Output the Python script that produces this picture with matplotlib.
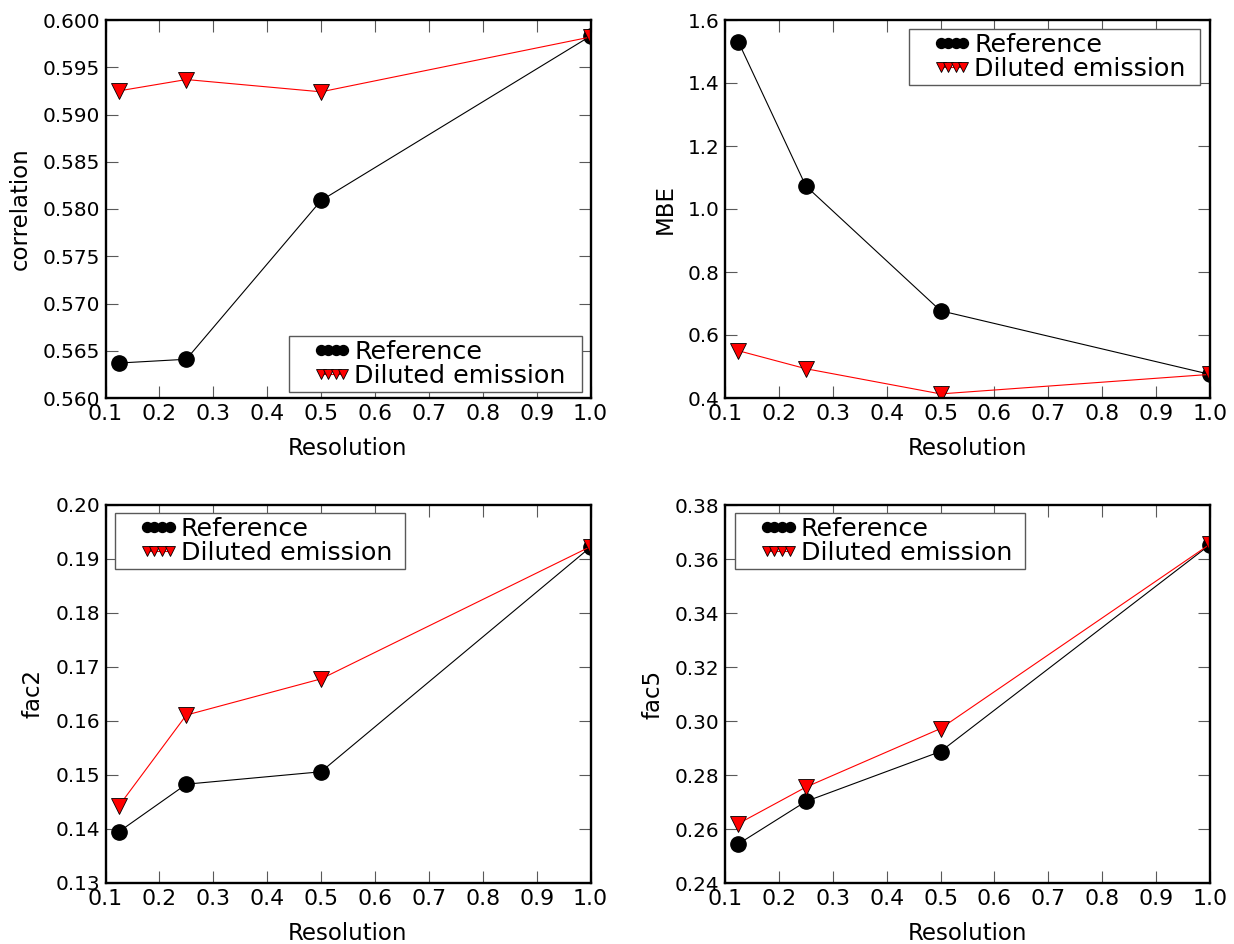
import numpy as np
import matplotlib
matplotlib.use("Agg")
import matplotlib.pyplot as plt
from matplotlib.lines import Line2D
from matplotlib.legend_handler import HandlerLine2D

# Resolution values shared by all panels
resolution = [0.125, 0.25, 0.5, 1.0]

corr_ref = [0.5637, 0.5641, 0.5809, 0.5983]
corr_dil = [0.5925, 0.5937, 0.5924, 0.5982]

mbe_ref = [1.530, 1.073, 0.677, 0.475]
mbe_dil = [0.550, 0.493, 0.413, 0.475]

fac2_ref = [0.1395, 0.1483, 0.1506, 0.1922]
fac2_dil = [0.1443, 0.1611, 0.1678, 0.1923]

fac5_ref = [0.2545, 0.2702, 0.2887, 0.3653]
fac5_dil = [0.2620, 0.2755, 0.2972, 0.3655]

labels = ["Reference", "Diluted emission"]

plt.rcParams["font.family"] = ["DejaVu Sans"]
plt.rcParams["xtick.labelsize"] = 15.8
plt.rcParams["ytick.labelsize"] = 14.4
plt.rcParams["axes.labelsize"] = 16.5

fig = plt.figure(figsize=(12.34, 9.44), dpi=100)

W, H = 1234.0, 944.0
left_cols = [105.5 / W, 725 / W]
bottoms = [1 - 398 / H, 1 - 883 / H]
aw, ah = 485 / W, 378 / H

# legend boxes in axes fraction (x0, y0, width, height), anchored at loc
panels = [
    (0, 0, corr_ref, corr_dil, "correlation", (0.560, 0.600), np.arange(0.560, 0.6001, 0.005), "%.3f",
     "lower left", (0.378, 0.016, 0.604, 0.15)),
    (1, 0, mbe_ref, mbe_dil, "MBE", (0.4, 1.6), np.arange(0.4, 1.601, 0.2), "%.1f",
     "upper left", (0.379, 0.834, 0.600, 0.141)),
    (0, 1, fac2_ref, fac2_dil, "fac2", (0.13, 0.20), np.arange(0.13, 0.2001, 0.01), "%.2f",
     "upper left", (0.0196, 0.836, 0.598, 0.143)),
    (1, 1, fac5_ref, fac5_dil, "fac5", (0.24, 0.38), np.arange(0.24, 0.3801, 0.02), "%.2f",
     "upper left", (0.0206, 0.836, 0.598, 0.143)),
]

for col, row, ref, dil, ylab, ylim, yticks, fmt, loc, lbox in panels:
    ax = fig.add_axes([left_cols[col], bottoms[row], aw, ah])
    l1, = ax.plot(resolution, ref, "-", color="black", lw=0.8, marker="o",
                  markersize=11, markerfacecolor="black", markeredgecolor="black")
    l2, = ax.plot(resolution, dil, "-", color="red", lw=0.8, marker="v",
                  markersize=11, markerfacecolor="red", markeredgecolor="black",
                  markeredgewidth=0.6)
    ax.set_xlim(0.1, 1.0)
    ax.set_ylim(*ylim)
    xt = np.arange(0.1, 1.001, 0.1)
    ax.set_xticks(xt)
    ax.set_xticklabels(["%.1f" % v for v in xt])
    ax.set_yticks(yticks)
    ax.set_yticklabels([fmt % v for v in yticks])
    ax.tick_params(direction="in", length=8.6, width=0.8, color="0.35",
                   top=True, right=True, pad=4)
    for sp in ax.spines.values():
        sp.set_linewidth(1.7)
    ax.set_xlabel("Resolution", labelpad=10)
    ax.set_ylabel(ylab, labelpad=7.5)
    leg = ax.legend([l1, l2], labels, loc=loc, bbox_to_anchor=lbox, mode="expand",
                    numpoints=4, fontsize=18.3,
                    markerscale=0.65, handlelength=3.1, handletextpad=-0.67,
                    borderpad=0.15, labelspacing=0.0, borderaxespad=0.0,
                    fancybox=False, framealpha=1,
                    handler_map={Line2D: HandlerLine2D(marker_pad=1.1)})
    leg.get_frame().set_edgecolor("0.35")
    leg.get_frame().set_linewidth(1.0)

fig.savefig("out.png", dpi=100)
